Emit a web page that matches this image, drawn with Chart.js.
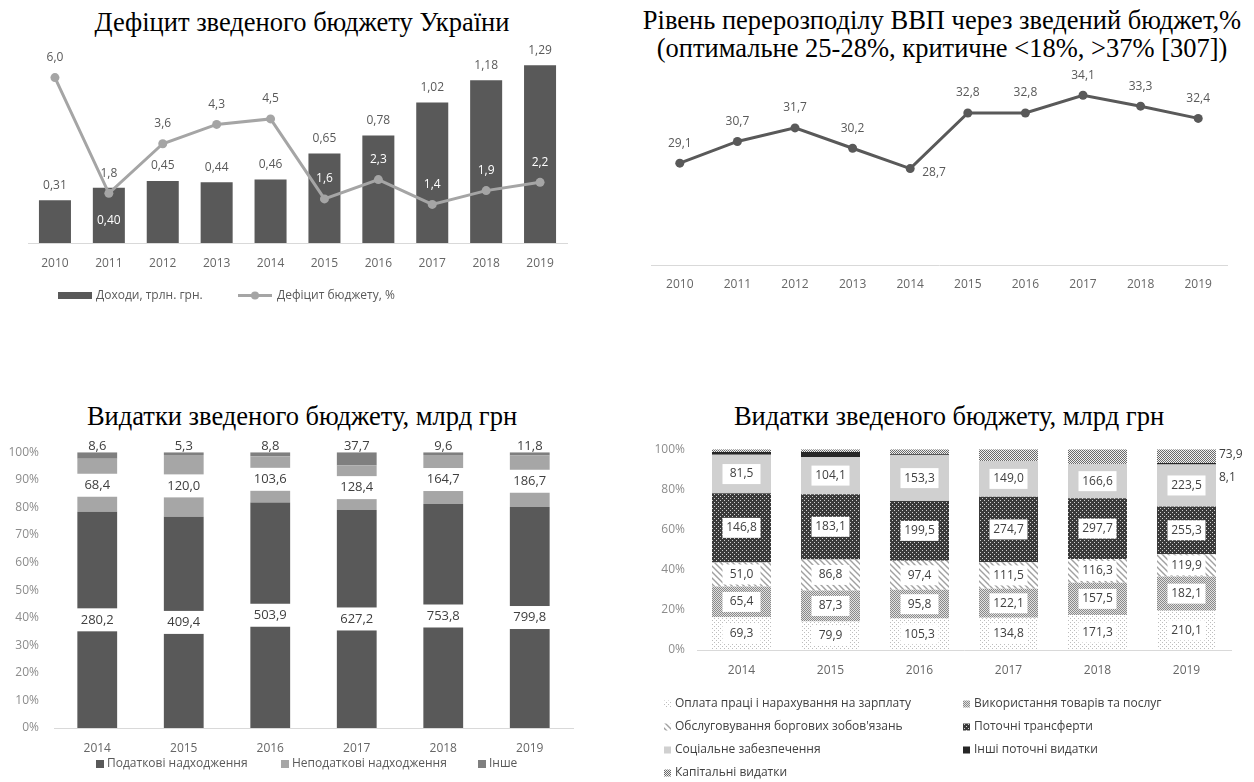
<!DOCTYPE html>
<html>
<head>
<meta charset="utf-8">
<script src="https://cdn.jsdelivr.net/npm/chart.js@4.4.0/dist/chart.umd.min.js"></script>
<style>
    body { margin: 0; background: #fff; width: 1254px; height: 782px; position: relative; overflow: hidden; }
    .title { position: absolute; font-family: "Liberation Serif", "Times New Roman", serif; font-weight: normal; font-size: 26.5px; color: #000; text-align: center; white-space: nowrap; line-height: 30px; }
    canvas { position: absolute; }
</style>
</head>
<body>

<div class="title" style="left:0; width:604px; top:7px;">Дефіцит зведеного бюджету України</div>
<div class="title" style="left:620px; width:644px; top:6px; line-height:28px;">Рівень перерозподілу ВВП через зведений бюджет,%<br>(оптимальне 25-28%, критичне &lt;18%, &gt;37% [307])</div>
<div class="title" style="left:0; width:604px; top:401px;">Видатки зведеного бюджету, млрд грн</div>
<div class="title" style="left:630px; width:638px; top:401px;">Видатки зведеного бюджету, млрд грн</div>

<canvas id="c1" width="600" height="280" style="left:0; top:40px;"></canvas>
<canvas id="c2" width="634" height="265" style="left:620px; top:55px;"></canvas>
<canvas id="c3" width="620" height="352" style="left:0; top:430px;"></canvas>
<canvas id="c4" width="624" height="352" style="left:630px; top:430px;"></canvas>

<script>
// ---------------- DATA ----------------
const years10 = ["2010", "2011", "2012", "2013", "2014", "2015", "2016", "2017", "2018", "2019"];
const revenue = [0.31, 0.40, 0.45, 0.44, 0.46, 0.65, 0.78, 1.02, 1.18, 1.29];
const deficit = [6.0, 1.8, 3.6, 4.3, 4.5, 1.6, 2.3, 1.4, 1.9, 2.2];
const gdpShare = [29.1, 30.7, 31.7, 30.2, 28.7, 32.8, 32.8, 34.1, 33.3, 32.4];

const years6 = ["2014", "2015", "2016", "2017", "2018", "2019"];
const taxRevenue = [280.2, 409.4, 503.9, 627.2, 753.8, 799.8];
const nonTaxRevenue = [68.4, 120.0, 103.6, 128.4, 164.7, 186.7];
const otherRevenue = [8.6, 5.3, 8.8, 37.7, 9.6, 11.8];

const wages = [69.3, 79.9, 105.3, 134.8, 171.3, 210.1];
const goods = [65.4, 87.3, 95.8, 122.1, 157.5, 182.1];
const debtService = [51.0, 86.8, 97.4, 111.5, 116.3, 119.9];
const transfers = [146.8, 183.1, 199.5, 274.7, 297.7, 255.3];
const social = [81.5, 104.1, 153.3, 149.0, 166.6, 223.5];
const otherCurrent = [6, 14, 3, 1, 1, 8.1];
const capital = [6, 8, 17, 49, 72, 73.9];

const FONT = '"Open Sans", "DejaVu Sans", sans-serif';
Chart.defaults.font.family = FONT;
Chart.defaults.animation = false;
Chart.defaults.plugins.legend.display = false;
Chart.defaults.plugins.tooltip.enabled = false;

function fmt(v, d) {
    return v.toFixed(d).replace(".", ",");
}

function toPercent(series) {
    const totals = series[0].map((_, j) => series.reduce((s, a) => s + a[j], 0));
    return series.map(a => a.map((v, j) => v / totals[j] * 100));
}

// ---------------- PATTERNS ----------------
function makePattern(size, draw) {
    const c = document.createElement("canvas");
    c.width = size; c.height = size;
    const g = c.getContext("2d");
    draw(g, size);
    return g.createPattern(c, "repeat");
}

const patWages = makePattern(4, (g) => {
    g.fillStyle = "#fff"; g.fillRect(0, 0, 4, 4);
    g.fillStyle = "#bdbdbd"; g.fillRect(0, 0, 1, 1); g.fillRect(2, 2, 1, 1);
});
const patGoods = makePattern(2, (g) => {
    g.fillStyle = "#e0e0e0"; g.fillRect(0, 0, 2, 2);
    g.fillStyle = "#8a8a8a"; g.fillRect(0, 0, 1, 1); g.fillRect(1, 1, 1, 1);
});
const patDebt = makePattern(6, (g) => {
    g.fillStyle = "#fff"; g.fillRect(0, 0, 6, 6);
    g.strokeStyle = "#a0a0a0"; g.lineWidth = 1.4;
    g.beginPath();
    g.moveTo(-1, -1); g.lineTo(7, 7);
    g.moveTo(-4, 2); g.lineTo(4, 10);
    g.moveTo(2, -4); g.lineTo(10, 4);
    g.stroke();
});
const patTransfers = makePattern(4, (g) => {
    g.fillStyle = "#3a3a3a"; g.fillRect(0, 0, 4, 4);
    g.fillStyle = "#d0d0d0"; g.fillRect(0, 0, 1, 1); g.fillRect(2, 2, 1, 1);
});
const patCapital = makePattern(2, (g) => {
    g.fillStyle = "#f0f0f0"; g.fillRect(0, 0, 2, 2);
    g.fillStyle = "#6a6a6a"; g.fillRect(0, 0, 1, 1); g.fillRect(1, 1, 1, 1);
});

// ---------------- CHART 1: REVENUE + DEFICIT ----------------
const chart1Labels = {
    id: "chart1Labels",
    afterDatasetsDraw(chart) {
        const ctx = chart.ctx;
        const bars = chart.getDatasetMeta(0).data;
        const pts = chart.getDatasetMeta(1).data;
        ctx.save();
        ctx.font = "12px " + FONT;
        ctx.textAlign = "center";
        ctx.textBaseline = "middle";
        bars.forEach((b, i) => {
            const p = pts[i];
            if (Math.abs(p.y - b.y) < 25) {
                ctx.fillStyle = "#fff";
                ctx.fillText(fmt(revenue[i], 2), b.x, b.base - 22);
            } else {
                ctx.fillStyle = "#595959";
                ctx.fillText(fmt(revenue[i], 2), b.x, b.y - 15);
            }
            const ly = p.y - 20;
            ctx.fillStyle = ly > b.y ? "#fff" : "#595959";
            ctx.fillText(fmt(deficit[i], 1), p.x, ly);
        });
        // legend
        const y = 255.5;
        ctx.fillStyle = "#595959";
        ctx.fillRect(58, y - 3.5, 34, 7);
        ctx.textAlign = "left";
        ctx.fillText("Доходи, трлн. грн.", 96, y);
        ctx.strokeStyle = "#a5a5a5";
        ctx.lineWidth = 3;
        ctx.beginPath(); ctx.moveTo(238, y); ctx.lineTo(272, y); ctx.stroke();
        ctx.fillStyle = "#a5a5a5";
        ctx.beginPath(); ctx.arc(255, y, 4, 0, Math.PI * 2); ctx.fill();
        ctx.fillStyle = "#595959";
        ctx.fillText("Дефіцит бюджету, %", 277, y);
        ctx.restore();
    }
};

new Chart(document.getElementById("c1"), {
    type: "bar",
    data: {
        labels: years10,
        datasets: [{
            type: "bar",
            label: "Доходи, трлн. грн.",
            data: revenue,
            backgroundColor: "#595959",
            yAxisID: "y",
            order: 1,
            barPercentage: 0.594,
            categoryPercentage: 1
        }, {
            type: "line",
            label: "Дефіцит бюджету, %",
            data: deficit,
            borderColor: "#a5a5a5",
            backgroundColor: "#a5a5a5",
            borderWidth: 3,
            pointRadius: 4.5,
            pointBorderWidth: 0,
            pointBackgroundColor: "#a5a5a5",
            yAxisID: "y1",
            order: 0
        }]
    },
    options: {
        responsive: false,
        layout: { padding: { left: 28, right: 33, top: 10, bottom: 47 } },
        scales: {
            x: {
                grid: { display: false, drawTicks: false },
                border: { display: true, color: "#d9d9d9" },
                ticks: { padding: 13, color: "#666", font: { size: 12 } },
                afterFit: s => { s.height = 30; }
            },
            y: { display: false, min: 0, max: 1.4 },
            y1: { display: false, min: 0, max: 7, position: "right" }
        }
    },
    plugins: [chart1Labels]
});

// ---------------- CHART 2: GDP REDISTRIBUTION ----------------
const chart2Labels = {
    id: "chart2Labels",
    afterDatasetsDraw(chart) {
        const ctx = chart.ctx;
        const pts = chart.getDatasetMeta(0).data;
        const minVal = Math.min(...gdpShare);
        ctx.save();
        ctx.font = "12px " + FONT;
        ctx.textBaseline = "middle";
        ctx.fillStyle = "#595959";
        pts.forEach((p, i) => {
            if (gdpShare[i] === minVal) {
                ctx.textAlign = "left";
                ctx.fillText(fmt(gdpShare[i], 1), p.x + 12, p.y + 4);
            } else {
                ctx.textAlign = "center";
                ctx.fillText(fmt(gdpShare[i], 1), p.x, p.y - 20);
            }
        });
        ctx.restore();
    }
};

new Chart(document.getElementById("c2"), {
    type: "line",
    data: {
        labels: years10,
        datasets: [{
            label: "Рівень перерозподілу ВВП",
            data: gdpShare,
            borderColor: "#595959",
            backgroundColor: "#595959",
            borderWidth: 3,
            pointRadius: 4.5,
            pointBorderWidth: 0,
            pointBackgroundColor: "#595959"
        }]
    },
    options: {
        responsive: false,
        layout: { padding: { left: 31, right: 27, top: 5, bottom: 25 } },
        scales: {
            x: {
                offset: true,
                grid: { display: false, drawTicks: false },
                border: { display: true, color: "#d9d9d9" },
                ticks: { padding: 12, color: "#666", font: { size: 12 } },
                afterFit: s => { s.height = 30; }
            },
            y: { display: false, min: 21.6, max: 36.7 }
        }
    },
    plugins: [chart2Labels]
});

// ---------------- CHART 3: REVENUE STRUCTURE ----------------
const revRaw = [taxRevenue, nonTaxRevenue, otherRevenue];
const revPct = toPercent(revRaw);
const revColors = ["#595959", "#a6a6a6", "#7f7f7f"];
const revNames = ["Податкові надходження", "Неподаткові надходження", "Інше"];

const chart3Labels = {
    id: "chart3Labels",
    afterDatasetsDraw(chart) {
        const ctx = chart.ctx;
        ctx.save();
        ctx.font = "13px " + FONT;
        ctx.textAlign = "center";
        ctx.textBaseline = "middle";
        revRaw.forEach((vals, d) => {
            chart.getDatasetMeta(d).data.forEach((el, i) => {
                const txt = fmt(vals[i], 1);
                if (d < 2) {
                    const cy = (el.y + el.base) / 2;
                    ctx.fillStyle = "#fff";
                    ctx.fillRect(el.x - el.width / 2 - 1, cy - 11.5, el.width + 2, 23);
                    ctx.fillStyle = "#404040";
                    ctx.fillText(txt, el.x, cy);
                } else {
                    ctx.fillStyle = "#404040";
                    ctx.fillText(txt, el.x, el.y - 6);
                }
            });
        });
        // legend
        const y = 334;
        const xs = [96, 281, 478];
        ctx.font = "12px " + FONT;
        ctx.textAlign = "left";
        revNames.forEach((n, k) => {
            ctx.fillStyle = revColors[k];
            ctx.fillRect(xs[k], y - 4, 8, 8);
            ctx.fillStyle = "#595959";
            ctx.fillText(n, xs[k] + 11, y);
        });
        ctx.restore();
    }
};

new Chart(document.getElementById("c3"), {
    type: "bar",
    data: {
        labels: years6,
        datasets: revPct.map((vals, d) => ({
            label: revNames[d],
            data: vals,
            backgroundColor: revColors[d],
            barPercentage: 0.46,
            categoryPercentage: 1
        }))
    },
    options: {
        responsive: false,
        layout: { padding: { left: 0, right: 47, top: 19, bottom: 24 } },
        scales: {
            x: {
                stacked: true,
                grid: { display: false, drawTicks: false },
                border: { display: true, color: "#d9d9d9" },
                ticks: { padding: 13, color: "#666", font: { size: 12 } },
                afterFit: s => { s.height = 30; }
            },
            y: {
                stacked: true,
                min: 0,
                max: 100,
                grid: { display: false, drawTicks: false },
                border: { display: false },
                ticks: { stepSize: 10, padding: 15, color: "#8c8c8c", font: { size: 12 }, callback: v => v + "%" },
                afterFit: s => { s.width = 54; }
            }
        }
    },
    plugins: [chart3Labels]
});

// ---------------- CHART 4: EXPENDITURE STRUCTURE ----------------
const expRaw = [wages, goods, debtService, transfers, social, otherCurrent, capital];
const expPct = toPercent(expRaw);
const expFills = [patWages, patGoods, patDebt, patTransfers, "#d0d0d0", "#262626", patCapital];
const expNames = [
    "Оплата праці і нарахування на зарплату",
    "Використання товарів та послуг",
    "Обслуговування боргових зобов'язань",
    "Поточні трансферти",
    "Соціальне забезпечення",
    "Інші поточні видатки",
    "Капітальні видатки"
];

const chart4Labels = {
    id: "chart4Labels",
    afterDatasetsDraw(chart) {
        const ctx = chart.ctx;
        const last = years6.length - 1;
        ctx.save();
        ctx.font = "12px " + FONT;
        ctx.textAlign = "center";
        ctx.textBaseline = "middle";
        expRaw.forEach((vals, d) => {
            chart.getDatasetMeta(d).data.forEach((el, i) => {
                const cy = (el.y + el.base) / 2;
                const txt = fmt(vals[i], 1);
                if (d < 5) {
                    ctx.fillStyle = "#fff";
                    ctx.fillRect(el.x - 19, cy - 10, 38, 20);
                    ctx.fillStyle = "#404040";
                    ctx.fillText(txt, el.x, cy);
                } else if (i === last) {
                    ctx.fillStyle = "#404040";
                    ctx.textAlign = "left";
                    ctx.fillText(txt, el.x + el.width / 2 + 3, d === 6 ? cy - 2 : cy + 14);
                    ctx.textAlign = "center";
                }
            });
        });
        // legend, two columns
        ctx.textAlign = "left";
        const rows = [274, 297, 320, 343];
        const cols = [34, 333];
        expNames.forEach((n, k) => {
            const x = cols[k % 2];
            const y = rows[Math.floor(k / 2)];
            ctx.fillStyle = expFills[k];
            ctx.fillRect(x, y - 3.5, 7, 7);
            ctx.fillStyle = "#404040";
            ctx.fillText(n, x + 11, y);
        });
        ctx.restore();
    }
};

new Chart(document.getElementById("c4"), {
    type: "bar",
    data: {
        labels: years6,
        datasets: expPct.map((vals, d) => ({
            label: expNames[d],
            data: vals,
            backgroundColor: expFills[d],
            barPercentage: 0.663,
            categoryPercentage: 1
        }))
    },
    options: {
        responsive: false,
        layout: { padding: { left: 0, right: 23, top: 19, bottom: 102 } },
        scales: {
            x: {
                stacked: true,
                grid: { display: false, drawTicks: false },
                border: { display: true, color: "#d9d9d9" },
                ticks: { padding: 13, color: "#666", font: { size: 12 } },
                afterFit: s => { s.height = 30; }
            },
            y: {
                stacked: true,
                min: 0,
                max: 100,
                grid: { display: false, drawTicks: false },
                border: { display: false },
                ticks: { stepSize: 20, padding: 12, color: "#8c8c8c", font: { size: 12 }, callback: v => v + "%" },
                afterFit: s => { s.width = 67; }
            }
        }
    },
    plugins: [chart4Labels]
});
</script>
</body>
</html>
